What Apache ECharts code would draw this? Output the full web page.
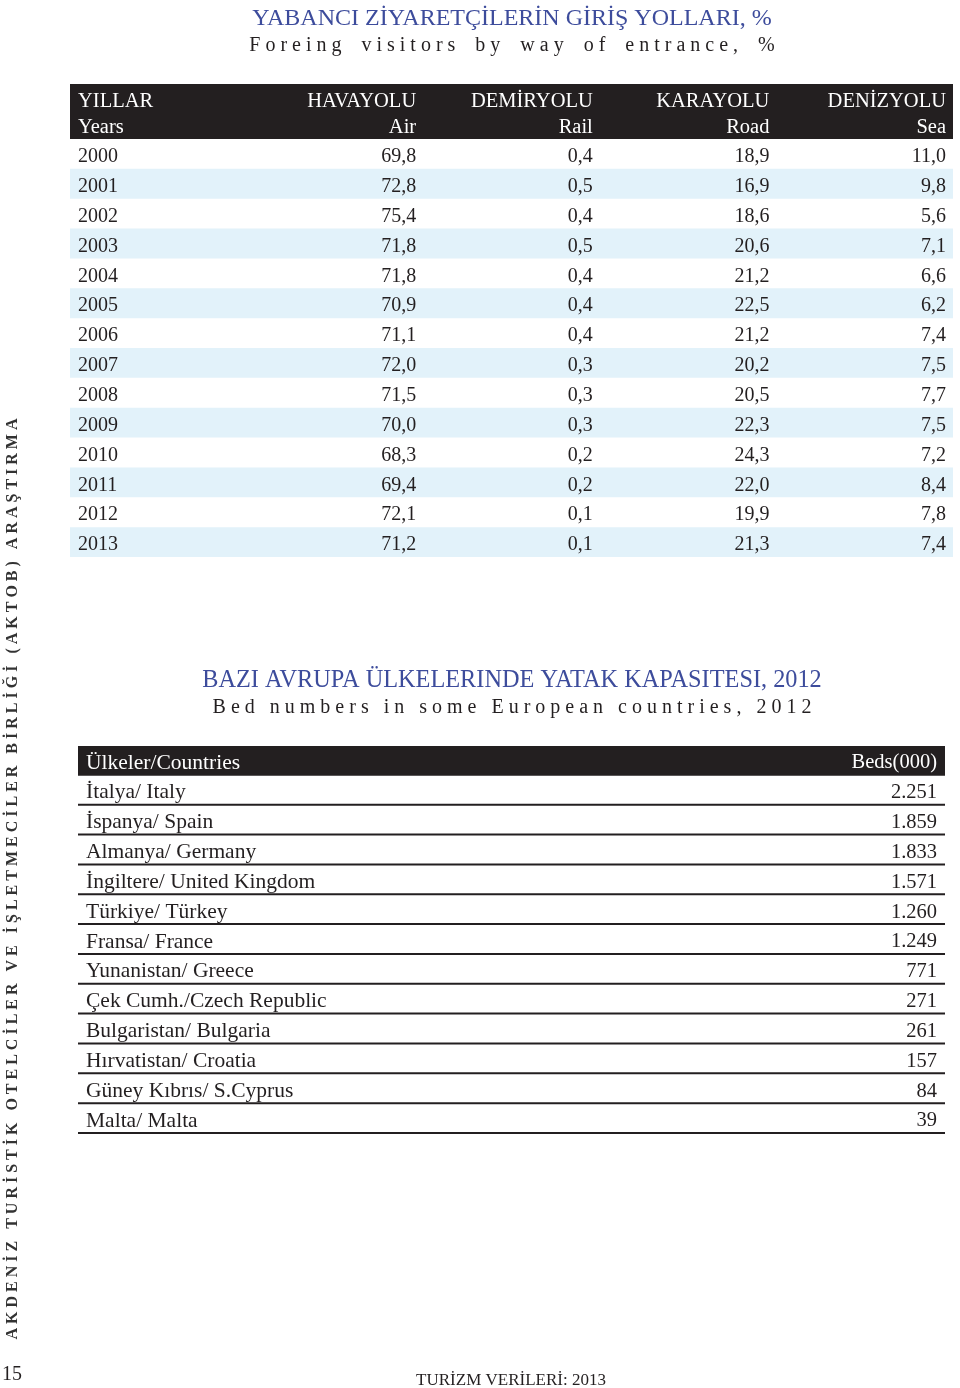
<!DOCTYPE html>
<html><head><meta charset="utf-8">
<script src="https://cdn.jsdelivr.net/npm/echarts@6/dist/echarts.min.js"></script>
<style>html,body{margin:0;padding:0;background:#fff}#c{width:960px;height:1388px}</style>
</head><body><div id="c"></div>
<script>
// ---------- data ----------
const years = ['2000','2001','2002','2003','2004','2005','2006','2007','2008','2009','2010','2011','2012','2013'];
const headTR = ['YILLAR','HAVAYOLU','DEMİRYOLU','KARAYOLU','DENİZYOLU'];
const headEN = ['Years','Air','Rail','Road','Sea'];
const air  = [69.8,72.8,75.4,71.8,71.8,70.9,71.1,72.0,71.5,70.0,68.3,69.4,72.1,71.2];
const rail = [0.4,0.5,0.4,0.5,0.4,0.4,0.4,0.3,0.3,0.3,0.2,0.2,0.1,0.1];
const road = [18.9,16.9,18.6,20.6,21.2,22.5,21.2,20.2,20.5,22.3,24.3,22.0,19.9,21.3];
const sea  = [11.0,9.8,5.6,7.1,6.6,6.2,7.4,7.5,7.7,7.5,7.2,8.4,7.8,7.4];
const head2 = ['Ülkeler/Countries','Beds(000)'];
const countries = ['İtalya/ Italy','İspanya/ Spain','Almanya/ Germany','İngiltere/ United Kingdom','Türkiye/ Türkey','Fransa/ France','Yunanistan/ Greece','Çek Cumh./Czech Republic','Bulgaristan/ Bulgaria','Hırvatistan/ Croatia','Güney Kıbrıs/ S.Cyprus','Malta/ Malta'];
const beds = [2251,1859,1833,1571,1260,1249,771,271,261,157,84,39];

const title1 = 'YABANCI ZİYARETÇİLERİN GİRİŞ YOLLARI, %';
const sub1 = 'Foreing visitors by way of entrance, %';
const title2 = 'BAZI AVRUPA ÜLKELERINDE YATAK KAPASITESI, 2012';
const sub2 = 'Bed numbers in some European countries, 2012';
const sideText = 'AKDENİZ TURİSTİK OTELCİLER VE İŞLETMECİLER BİRLİĞİ (AKTOB) ARAŞTIRMA';
const pageNo = '15';
const footer = 'TURİZM VERİLERİ: 2013';

// ---------- helpers ----------
const FONT = '"Liberation Serif", "DejaVu Serif", serif';
const TXT = '#231f20';
const BLUE = '#3d4c9c';
const STRIPE = '#e2f2fa';
const fmt1 = v => v.toFixed(1).replace('.', ',');
const fmtK = v => String(v).replace(/\B(?=(\d{3})+(?!\d))/g, '.');
const spaced = (s, ls, ws) => s.split(' ').map(w => Array.from(w).join(ls)).join(ws);

const body1 = years.map((y, i) => [y, fmt1(air[i]), fmt1(rail[i]), fmt1(road[i]), fmt1(sea[i])]);

function cellText(api, col, row, txt, fontSize, padL, padR, color, dy) {
  const c = api.coord([col, row]);
  const s = api.size([1, 1]);
  const left = col === 0;
  return {
    type: 'text',
    x: left ? c[0] - s[0] / 2 + padL : c[0] + s[0] / 2 - padR,
    y: c[1] + (dy || 0),
    style: { text: txt, fill: color, font: fontSize + 'px ' + FONT, textAlign: left ? 'left' : 'right', textVerticalAlign: 'middle' }
  };
}

const header1Cells = [];
for (let r = 0; r < 2; r++) for (let c = 0; c < 5; c++) header1Cells.push([c, r]);
const body1Cells = [];
for (let r = 0; r < years.length; r++) for (let c = 0; c < 5; c++) body1Cells.push([c, r]);
const stripeRows = years.map((y, i) => [0, i]).filter(d => d[1] % 2 === 1);
const t2Cells = [];
for (let r = 0; r <= countries.length; r++) for (let c = 0; c < 2; c++) t2Cells.push([c, r]);
const t2Lines = countries.map((n, i) => [0, i + 1]);

const FS = 20;
const option = {
  animation: false,
  grid: [
    { left: 70, top: 84, width: 883, height: 55 },
    { left: 70, top: 139, width: 883, height: 418 },
    { left: 78, top: 746, width: 867, height: 388 }
  ],
  xAxis: [
    { gridIndex: 0, type: 'category', data: headEN, show: false },
    { gridIndex: 1, type: 'category', data: headEN, show: false },
    { gridIndex: 2, type: 'category', data: head2, show: false }
  ],
  yAxis: [
    { gridIndex: 0, type: 'category', data: ['tr', 'en'], inverse: true, show: false },
    { gridIndex: 1, type: 'category', data: years, inverse: true, show: false },
    { gridIndex: 2, type: 'category', data: ['head'].concat(countries), inverse: true, show: false }
  ],
  graphic: [
    { type: 'text', x: 512, y: 19, style: { text: title1, fill: BLUE, font: '24px ' + FONT, textAlign: 'center', textVerticalAlign: 'middle' } },
    { type: 'text', x: 512, y: 46, style: { text: spaced(sub1, ' ', '    '), fill: TXT, font: '20px ' + FONT, textAlign: 'center', textVerticalAlign: 'middle' } },
    { type: 'text', x: 512, y: 681, style: { text: title2, fill: BLUE, font: '24.3px ' + FONT, textAlign: 'center', textVerticalAlign: 'middle' } },
    { type: 'text', x: 512, y: 708, style: { text: spaced(sub2, ' ', '   '), fill: TXT, font: '20px ' + FONT, textAlign: 'center', textVerticalAlign: 'middle' } },
    { type: 'text', x: 13, y: 879, rotation: Math.PI / 2, style: { text: spaced(sideText, ' ', '   '), fill: '#333', font: 'bold 16px ' + FONT, textAlign: 'center', textVerticalAlign: 'middle' } },
    { type: 'text', x: 12, y: 1375, style: { text: pageNo, fill: TXT, font: '20px ' + FONT, textAlign: 'center', textVerticalAlign: 'middle' } },
    { type: 'text', x: 511, y: 1381, style: { text: footer, fill: TXT, font: '17px ' + FONT, textAlign: 'center', textVerticalAlign: 'middle' } }
  ],
  series: [
    { // header 1 background
      type: 'custom', xAxisIndex: 0, yAxisIndex: 0, data: [[0, 0]], silent: true,
      renderItem: (p, api) => ({ type: 'rect', shape: { x: p.coordSys.x, y: p.coordSys.y, width: p.coordSys.width, height: p.coordSys.height }, style: { fill: '#231f20' } })
    },
    { // header 1 text
      type: 'custom', xAxisIndex: 0, yAxisIndex: 0, data: header1Cells, silent: true,
      renderItem: (p, api) => {
        const d = header1Cells[p.dataIndex];
        const txt = d[1] === 0 ? headTR[d[0]] : headEN[d[0]];
        return cellText(api, d[0], d[1], txt, 20.5, 8, 7, '#ffffff', d[1] === 0 ? 4 : 2);
      }
    },
    { // stripes
      type: 'custom', xAxisIndex: 1, yAxisIndex: 1, data: stripeRows, silent: true,
      renderItem: (p, api) => {
        const d = stripeRows[p.dataIndex];
        const c = api.coord([0, d[1]]);
        const h = api.size([1, 1])[1];
        return { type: 'rect', shape: { x: p.coordSys.x, y: c[1] - h / 2, width: p.coordSys.width, height: h }, style: { fill: STRIPE } };
      }
    },
    { // body 1 text
      type: 'custom', xAxisIndex: 1, yAxisIndex: 1, data: body1Cells, silent: true,
      renderItem: (p, api) => {
        const d = body1Cells[p.dataIndex];
        return cellText(api, d[0], d[1], body1[d[1]][d[0]], FS, 8, 7, TXT, 3);
      }
    },
    { // table 2 header bg
      type: 'custom', xAxisIndex: 2, yAxisIndex: 2, data: [[0, 0]], silent: true,
      renderItem: (p, api) => {
        const c = api.coord([0, 0]);
        const h = api.size([1, 1])[1];
        return { type: 'rect', shape: { x: p.coordSys.x, y: c[1] - h / 2, width: p.coordSys.width, height: h }, style: { fill: '#231f20' } };
      }
    },
    { // table 2 row lines
      type: 'custom', xAxisIndex: 2, yAxisIndex: 2, data: t2Lines, silent: true,
      renderItem: (p, api) => {
        const d = t2Lines[p.dataIndex];
        const c = api.coord([0, d[1]]);
        const h = api.size([1, 1])[1];
        const y = c[1] + h / 2 - 1;
        return { type: 'line', shape: { x1: p.coordSys.x, y1: y, x2: p.coordSys.x + p.coordSys.width, y2: y }, style: { stroke: '#231f20', lineWidth: 2 } };
      }
    },
    { // table 2 text
      type: 'custom', xAxisIndex: 2, yAxisIndex: 2, data: t2Cells, silent: true,
      renderItem: (p, api) => {
        const d = t2Cells[p.dataIndex];
        const isHead = d[1] === 0;
        const txt = isHead ? head2[d[0]] : (d[0] === 0 ? countries[d[1] - 1] : fmtK(beds[d[1] - 1]));
        const fs = d[0] === 0 ? 21.5 : 20.5;
        return cellText(api, d[0], d[1], txt, fs, 8, 8, isHead ? '#ffffff' : TXT, 2);
      }
    }
  ]
};
const chart = echarts.init(document.getElementById('c'), null, { renderer: 'canvas' });
chart.setOption(option);
</script>
</body></html>
